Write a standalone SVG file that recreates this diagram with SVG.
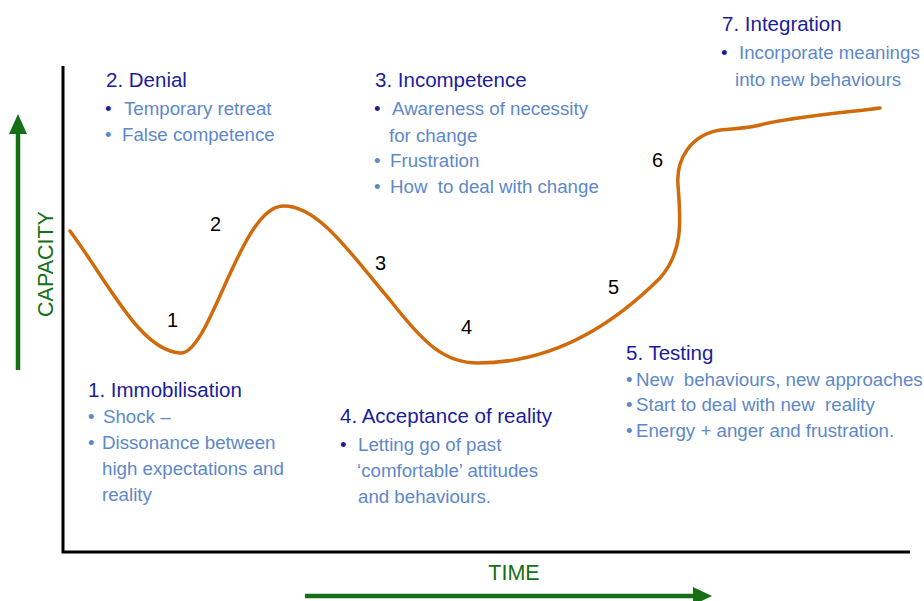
<svg xmlns="http://www.w3.org/2000/svg" width="924" height="601" viewBox="0 0 924 601">
<style>
text{font-family:"Liberation Sans",Arial,sans-serif}
.t{font-size:20.5px;fill:#1c1c9c}
.b{font-size:18.7px;fill:#5d88c9}
.db{fill:#1c1c9c}
.n{font-size:20px;fill:#000}
.g{font-size:21.5px;fill:#157015}
.ax{stroke:#000;stroke-width:3;fill:none}
.ga{stroke:#157015;stroke-width:4.5;fill:none}
</style>
<rect width="924" height="601" fill="#fff"/>
<g id="axes">
<path class="ax" d="M63,66 V552 H910"/>
<path class="ga" d="M18,370 V132"/>
<polygon points="9,134 27,134 18,114" fill="#157015"/>
<path class="ga" d="M305,596 H694"/>
<polygon points="693,587 693,605 712,596" fill="#157015"/>
<text class="g" x="0" y="0" text-anchor="middle" transform="translate(53,264) rotate(-90)">CAPACITY</text>
<text class="g" x="514" y="580" text-anchor="middle">TIME</text>
</g>
<g id="connectors">
<path d="M70,231 C110,285 140,350 180,353 C210,356 240,207 283,206 C320,205 355,260 390,300 C425,345 445,363 478,363 C560,363 620,318 660,278 C685,250 680,215 678,185 C676,160 690,135 720,130 C740,128 750,128 760,125 C790,117 850,112 880,108" fill="none" stroke="#d06b0c" stroke-width="3.5" stroke-linecap="round"/>
</g>
<g id="markers">
<text class="n" x="167" y="327">1</text>
<text class="n" x="210" y="231">2</text>
<text class="n" x="375" y="270">3</text>
<text class="n" x="461" y="334">4</text>
<text class="n" x="608" y="294">5</text>
<text class="n" x="652" y="167">6</text>
</g>
<g id="denial">
<text class="t" x="106" y="87">2. Denial</text>
<text class="b" x="105" y="115"><tspan class="db">•</tspan></text>
<text class="b" x="124" y="115">Temporary retreat</text>
<text class="b" x="105" y="141">•</text>
<text class="b" x="122" y="141">False competence</text>
</g>
<g id="incompetence">
<text class="t" x="375" y="87">3. Incompetence</text>
<text class="b" x="374" y="115"><tspan class="db">•</tspan></text>
<text class="b" x="392" y="115">Awareness of necessity</text>
<text class="b" x="389" y="142">for change</text>
<text class="b" x="374" y="167">•</text>
<text class="b" x="390" y="167">Frustration</text>
<text class="b" x="374" y="193">•</text>
<text class="b" x="390" y="193" xml:space="preserve">How  to deal with change</text>
</g>
<g id="integration">
<text class="t" x="722" y="31">7. Integration</text>
<text class="b" x="721" y="59"><tspan class="db">•</tspan></text>
<text class="b" x="739" y="59">Incorporate meanings</text>
<text class="b" x="735" y="86">into new behaviours</text>
</g>
<g id="immobilisation">
<text class="t" x="88" y="397">1. Immobilisation</text>
<text class="b" x="88" y="423">•</text>
<text class="b" x="103" y="423">Shock –</text>
<text class="b" x="88" y="449">•</text>
<text class="b" x="102" y="449">Dissonance between</text>
<text class="b" x="102" y="475">high expectations and</text>
<text class="b" x="102" y="501">reality</text>
</g>
<g id="acceptance">
<text class="t" x="340" y="423">4. Acceptance of reality</text>
<text class="b" x="340" y="451"><tspan class="db">•</tspan></text>
<text class="b" x="358" y="451">Letting go of past</text>
<text class="b" x="357" y="477">‘comfortable’ attitudes</text>
<text class="b" x="358" y="503">and behaviours.</text>
</g>
<g id="testing">
<text class="t" x="626" y="360">5. Testing</text>
<text class="b" x="626" y="386">•</text>
<text class="b" x="636" y="386" xml:space="preserve">New  behaviours, new approaches</text>
<text class="b" x="626" y="411">•</text>
<text class="b" x="636" y="411" xml:space="preserve">Start to deal with new  reality</text>
<text class="b" x="626" y="437">•</text>
<text class="b" x="636" y="437">Energy + anger and frustration.</text>
</g>
</svg>
